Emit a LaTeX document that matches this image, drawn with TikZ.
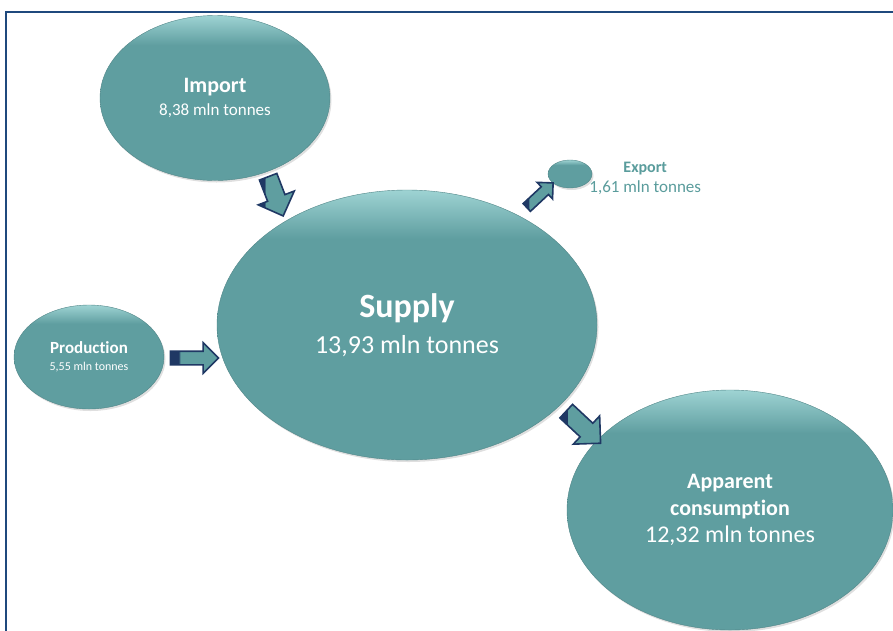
\documentclass[tikz,border=0pt]{standalone}
\usepackage{fontspec}
\setmainfont{Carlito}[Ligatures={NoCommon,NoContextual}]
\usepackage{tikz}
\usetikzlibrary{shapes.geometric,shapes.arrows,shadows,positioning}
\definecolor{bubble}{HTML}{5F9EA0}
\definecolor{bubbletop}{HTML}{9ED3D3}
\definecolor{navy}{HTML}{1F3864}
\definecolor{framec}{HTML}{1F497D}
\definecolor{exporttxt}{HTML}{5A9C9C}
\pgfdeclareverticalshading{bubbleshade}{100bp}{color(0bp)=(bubble); color(66bp)=(bubble); color(75bp)=(bubbletop); color(100bp)=(bubbletop)}
\pgfdeclarehorizontalshading{tailshade}{100bp}{color(0bp)=(navy); color(34bp)=(navy); color(35bp)=(bubble); color(100bp)=(bubble)}

\begin{document}
\begin{tikzpicture}[x=1pt,y=-1pt]
\tikzstyle{bubblenode} = [ellipse, inner sep=0pt, align=center, text=white, shading=bubbleshade, draw=bubble!85!black, line width=0.4pt, drop shadow={opacity=0.25, shadow xshift=1.5pt, shadow yshift=-2pt}]
\tikzstyle{blockarr} = [single arrow, draw=navy, line width=1.6pt, shading=tailshade, inner xsep=0pt, minimum width=0pt]
\useasboundingbox (0,0) rectangle (893,630);
\draw[framec, line width=2pt] (6,640) -- (6,12) -- (900,12);

\node[bubblenode, minimum width=230, minimum height=165, font=\fontsize{17}{23}\selectfont] (import) at (215,98)
    {{\fontsize{22}{23}\selectfont\bfseries Import}\\8,38 mln tonnes};
\node[bubblenode, minimum width=380, minimum height=270, font=\fontsize{26}{36}\selectfont] (supply) at (407,325)
    {{\fontsize{34}{36}\selectfont\bfseries Supply}\\13,93 mln tonnes};
\node[bubblenode, minimum width=150, minimum height=104, font=\fontsize{12}{17}\selectfont] (production) at (89,357)
    {{\fontsize{17}{17}\selectfont\bfseries Production}\\5,55 mln tonnes};
\node[bubblenode, minimum width=44, minimum height=28] (export) at (570,174) {};
\node[right=-3pt of export, yshift=-4pt, inner sep=0pt, align=center, text=exporttxt, font=\fontsize{17}{20}\selectfont] (exportlabel)
    {{\fontsize{16}{20}\selectfont\bfseries Export}\\1,61 mln tonnes};
\node[bubblenode, minimum width=326, minimum height=240, font=\fontsize{24}{27}\selectfont] (consumption) at (730,510)
    {{\fontsize{22}{27}\selectfont\bfseries Apparent}\\{\fontsize{22}{27}\selectfont\bfseries consumption}\\12,32 mln tonnes};

\node[blockarr, inner ysep=8.5pt, single arrow head extend=10pt, minimum height=42, rotate=-69] (importarr) at (274,192) {};
\node[blockarr, inner ysep=6pt, single arrow head extend=8.5pt, minimum height=48] (productionarr) at (191,358) {};
\node[blockarr, inner ysep=4.5pt, single arrow head extend=6pt, minimum height=36, rotate=43] (exportarr) at (538,197) {};
\node[blockarr, inner ysep=8.5pt, single arrow head extend=10pt, minimum height=47, rotate=-43] (consumptionarr) at (580,424) {};
\end{tikzpicture}
\end{document}
